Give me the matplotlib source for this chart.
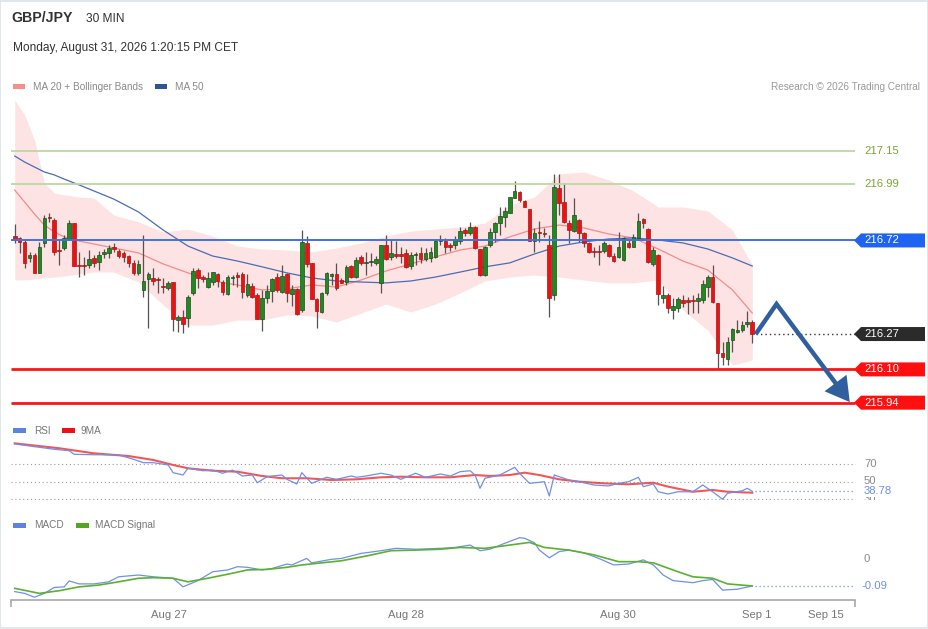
import matplotlib
matplotlib.use('Agg')
import matplotlib.pyplot as plt
from matplotlib.patches import Rectangle, Polygon, FancyArrowPatch

plt.rcParams['font.family'] = ['Liberation Sans', 'DejaVu Sans']

# ---------------- data ----------------
open_ = [216.741, 216.732, 216.713, 216.636, 216.650, 216.564, 216.708, 216.833, 216.818, 216.674,
         216.684, 216.727, 216.804, 216.602, 216.602, 216.602, 216.636, 216.617, 216.655, 216.660,
         216.689, 216.669, 216.660, 216.645, 216.612, 216.564, 216.482, 216.535, 216.540, 216.535,
         216.501, 216.492, 216.520, 216.337, 216.352, 216.347, 216.468, 216.578, 216.544, 216.496,
         216.520, 216.559, 216.520, 216.463, 216.540, 216.554, 216.559, 216.458, 216.501, 216.458,
         216.342, 216.444, 216.477, 216.544, 216.472, 216.559, 216.463, 216.487, 216.386, 216.708,
         216.612, 216.439, 216.376, 216.468, 216.549, 216.559, 216.530, 216.520, 216.597, 216.544,
         216.641, 216.612, 216.617, 216.612, 216.516, 216.698, 216.641, 216.655, 216.655, 216.660,
         216.597, 216.650, 216.660, 216.631, 216.636, 216.641, 216.717, 216.717, 216.698, 216.698,
         216.717, 216.770, 216.756, 216.785, 216.679, 216.554, 216.698, 216.761, 216.804, 216.833,
         216.852, 216.924, 216.953, 216.910, 216.871, 216.717, 216.761, 216.756, 216.698, 216.458,
         216.972, 216.905, 216.804, 216.765, 216.818, 216.756, 216.708, 216.669, 216.669, 216.669,
         216.698, 216.645, 216.641, 216.626, 216.708, 216.689, 216.732, 216.823, 216.775, 216.607,
         216.650, 216.444, 216.458, 216.386, 216.395, 216.434, 216.434, 216.434, 216.429, 216.434,
         216.496, 216.544, 216.419, 216.179, 216.150, 216.241, 216.280, 216.289, 216.318, 216.328]
high = [216.799, 216.737, 216.722, 216.665, 216.660, 216.713, 216.842, 216.852, 216.828, 216.722,
        216.746, 216.818, 216.804, 216.665, 216.641, 216.674, 216.650, 216.669, 216.679, 216.698,
        216.708, 216.679, 216.669, 216.650, 216.626, 216.626, 216.746, 216.568, 216.588, 216.544,
        216.540, 216.525, 216.520, 216.362, 216.386, 216.458, 216.588, 216.588, 216.554, 216.568,
        216.568, 216.564, 216.530, 216.554, 216.554, 216.568, 216.568, 216.559, 216.516, 216.468,
        216.482, 216.506, 216.540, 216.564, 216.602, 216.564, 216.506, 216.492, 216.770, 216.741,
        216.612, 216.444, 216.472, 216.568, 216.564, 216.612, 216.540, 216.602, 216.602, 216.641,
        216.650, 216.665, 216.660, 216.645, 216.698, 216.746, 216.722, 216.717, 216.689, 216.679,
        216.665, 216.665, 216.689, 216.684, 216.689, 216.722, 216.746, 216.732, 216.708, 216.741,
        216.785, 216.780, 216.809, 216.789, 216.679, 216.693, 216.780, 216.809, 216.881, 216.881,
        216.929, 217.006, 216.958, 216.914, 216.871, 216.780, 216.813, 216.780, 216.746, 217.040,
        217.040, 216.996, 216.818, 216.924, 216.823, 216.761, 216.713, 216.689, 216.698, 216.717,
        216.703, 216.660, 216.761, 216.737, 216.722, 216.751, 216.852, 216.828, 216.780, 216.689,
        216.655, 216.501, 216.468, 216.444, 216.448, 216.458, 216.448, 216.458, 216.468, 216.530,
        216.554, 216.602, 216.419, 216.232, 216.256, 216.299, 216.337, 216.333, 216.381, 216.337]
low = [216.708, 216.660, 216.588, 216.617, 216.564, 216.564, 216.689, 216.809, 216.650, 216.602,
       216.674, 216.722, 216.597, 216.544, 216.554, 216.588, 216.593, 216.578, 216.636, 216.636,
       216.665, 216.636, 216.617, 216.593, 216.554, 216.554, 216.448, 216.299, 216.506, 216.468,
       216.468, 216.482, 216.285, 216.280, 216.275, 216.304, 216.458, 216.492, 216.520, 216.492,
       216.506, 216.496, 216.458, 216.458, 216.506, 216.496, 216.444, 216.448, 216.444, 216.342,
       216.285, 216.419, 216.424, 216.472, 216.468, 216.424, 216.405, 216.362, 216.376, 216.593,
       216.439, 216.299, 216.371, 216.458, 216.506, 216.482, 216.516, 216.506, 216.540, 216.540,
       216.602, 216.554, 216.597, 216.602, 216.468, 216.626, 216.626, 216.636, 216.612, 216.588,
       216.583, 216.602, 216.612, 216.621, 216.617, 216.636, 216.698, 216.660, 216.669, 216.679,
       216.703, 216.741, 216.746, 216.679, 216.549, 216.549, 216.689, 216.713, 216.746, 216.785,
       216.852, 216.924, 216.905, 216.881, 216.717, 216.665, 216.713, 216.737, 216.352, 216.434,
       216.842, 216.804, 216.708, 216.761, 216.713, 216.689, 216.660, 216.641, 216.602, 216.660,
       216.641, 216.617, 216.636, 216.621, 216.684, 216.689, 216.727, 216.780, 216.612, 216.597,
       216.410, 216.419, 216.371, 216.342, 216.376, 216.400, 216.366, 216.371, 216.371, 216.419,
       216.448, 216.419, 216.100, 216.121, 216.121, 216.184, 216.275, 216.280, 216.304, 216.227]
close = [216.722, 216.713, 216.612, 216.650, 216.564, 216.689, 216.828, 216.828, 216.665, 216.669,
         216.732, 216.804, 216.597, 216.597, 216.597, 216.631, 216.612, 216.650, 216.665, 216.684,
         216.679, 216.645, 216.641, 216.612, 216.564, 216.607, 216.525, 216.559, 216.525, 216.530,
         216.497, 216.516, 216.342, 216.352, 216.318, 216.448, 216.573, 216.540, 216.535, 216.540,
         216.568, 216.525, 216.472, 216.544, 216.544, 216.544, 216.472, 216.511, 216.448, 216.342,
         216.444, 216.477, 216.535, 216.482, 216.549, 216.468, 216.487, 216.366, 216.713, 216.607,
         216.439, 216.381, 216.468, 216.564, 216.559, 216.492, 216.516, 216.593, 216.544, 216.626,
         216.612, 216.617, 216.621, 216.631, 216.698, 216.631, 216.660, 216.645, 216.645, 216.593,
         216.650, 216.655, 216.631, 216.660, 216.665, 216.717, 216.727, 216.689, 216.689, 216.727,
         216.765, 216.756, 216.785, 216.684, 216.554, 216.689, 216.761, 216.804, 216.837, 216.862,
         216.929, 216.958, 216.914, 216.881, 216.717, 216.756, 216.756, 216.751, 216.444, 216.977,
         216.900, 216.809, 216.770, 216.842, 216.756, 216.708, 216.665, 216.665, 216.665, 216.708,
         216.645, 216.621, 216.689, 216.732, 216.689, 216.737, 216.813, 216.804, 216.617, 216.674,
         216.463, 216.458, 216.395, 216.405, 216.439, 216.419, 216.424, 216.429, 216.444, 216.511,
         216.544, 216.424, 216.179, 216.160, 216.232, 216.294, 216.289, 216.313, 216.328, 216.270]

# moving averages / bands, sampled at candle indices
band_idx = [0, 2, 4, 6, 8, 10, 13, 16, 20, 25, 30, 35, 40, 45, 50, 55, 60, 65, 70, 75, 80, 85,
            90, 95, 100, 105, 110, 115, 120, 125, 130, 135, 140, 145, 149]
bb_upper = [217.395, 217.323, 217.203, 216.996, 216.948, 216.939, 216.929, 216.924, 216.842, 216.809,
            216.761, 216.775, 216.741, 216.693, 216.679, 216.674, 216.665, 216.684, 216.708, 216.741,
            216.765, 216.775, 216.785, 216.804, 216.890, 216.929, 217.040, 217.049, 217.011, 216.958,
            216.881, 216.881, 216.862, 216.770, 216.602]
bb_lower = [216.530, 216.530, 216.535, 216.540, 216.544, 216.549, 216.559, 216.568, 216.568, 216.520,
            216.410, 216.313, 216.313, 216.337, 216.337, 216.362, 216.357, 216.328, 216.371, 216.414,
            216.376, 216.414, 216.468, 216.525, 216.544, 216.554, 216.544, 216.530, 216.516, 216.516,
            216.530, 216.386, 216.289, 216.121, 216.145]
ma20 = [216.962, 216.905, 216.847, 216.794, 216.761, 216.737, 216.717, 216.703, 216.684, 216.660,
        216.607, 216.564, 216.525, 216.506, 216.482, 216.487, 216.506, 216.496, 216.530, 216.573,
        216.607, 216.641, 216.674, 216.693, 216.737, 216.775, 216.794, 216.780, 216.751, 216.732,
        216.679, 216.621, 216.578, 216.482, 216.371]
ma50 = [217.126, 217.097, 217.073, 217.049, 217.035, 217.015, 216.987, 216.958, 216.919, 216.857,
        216.770, 216.693, 216.645, 216.621, 216.593, 216.564, 216.540, 216.525, 216.520, 216.516,
        216.525, 216.544, 216.568, 216.593, 216.612, 216.655, 216.693, 216.713, 216.727, 216.732,
        216.722, 216.708, 216.679, 216.636, 216.597]

# key levels
resist_levels = [217.15, 216.99]
pivot_level = 216.72
last_price = 216.27
support_levels = [216.10, 215.94]

# projected path (candle offsets after last candle, price)
proj_offsets = [0.7, 4.9, 19.7]
proj_prices = [216.27, 216.414, 215.943]

# RSI and its 9-period MA
rsi_idx = [0, 4, 8, 11, 12, 16, 21, 24, 26, 28, 31, 32, 34, 35, 38, 40, 42, 44, 46, 48, 49, 51, 52, 54,
           55, 57, 58, 60, 63, 65, 68, 69, 71, 74, 76, 78, 81, 83, 86, 88, 90, 92, 93, 94, 95, 98, 101,
           102, 104, 107, 108, 109, 112, 114, 117, 120, 122, 124, 126, 127, 129, 130, 132, 134, 137,
           139, 141, 143, 144, 147, 148, 149]
rsi_val = [92.9, 89.8, 86.8, 85.2, 81.1, 80.6, 80.3, 75.4, 71.5, 71.5, 68.9, 60.1, 57.4, 65.1, 62.3,
           63.1, 59.4, 63.1, 56.3, 57.4, 48.6, 55.5, 56.3, 57.4, 52.5, 47.1, 60.1, 47.9, 54.8, 52.5,
           56.3, 54.8, 56.3, 59.4, 57.4, 52.5, 59.4, 54.8, 58.6, 56.3, 61.2, 62.3, 57.4, 42.2, 53.7,
           57.4, 66.2, 59.4, 47.9, 49.8, 33.4, 57.4, 51.7, 49.8, 46.0, 44.9, 47.9, 49.8, 54.8, 44.1,
           47.1, 38.3, 35.7, 38.3, 38.3, 46.0, 38.3, 29.7, 36.5, 39.5, 42.2, 38.78]
ma9_idx = [0, 9, 16, 23, 28, 32, 35, 40, 45, 50, 54, 59, 64, 69, 74, 78, 83, 88, 93, 96, 100, 103,
           106, 110, 114, 119, 124, 129, 132, 137, 141, 144, 149]
ma9_val = [93.6, 88.0, 82.2, 79.1, 74.6, 68.9, 65.1, 62.3, 61.2, 56.3, 53.7, 53.7, 51.7, 52.5, 54.8,
           55.5, 54.8, 54.8, 57.4, 56.3, 57.4, 60.1, 57.4, 52.5, 49.8, 47.9, 46.8, 48.6, 44.1, 38.3,
           40.3, 38.3, 37.2]
rsi_levels = [70, 50, 30]

# MACD
macd_idx = [0, 2, 4, 6, 8, 10, 11, 13, 16, 19, 21, 25, 28, 32, 34, 37, 40, 43, 45, 47, 50, 52, 55, 56,
            59, 60, 64, 66, 70, 74, 77, 81, 86, 89, 92, 94, 96, 99, 102, 103, 105, 106, 108, 110, 112,
            115, 118, 121, 124, 127, 129, 131, 133, 137, 139, 141, 143, 146, 149]
macd_val = [-0.109, -0.115, -0.128, -0.115, -0.095, -0.093, -0.073, -0.083, -0.083, -0.076, -0.059,
            -0.053, -0.059, -0.064, -0.093, -0.072, -0.042, -0.036, -0.025, -0.027, -0.036, -0.031,
            -0.016, -0.019, 0.003, -0.012, 0.0, 0.003, 0.020, 0.029, 0.037, 0.034, 0.037, 0.040, 0.048,
            0.029, 0.034, 0.054, 0.073, 0.071, 0.056, 0.031, 0.005, 0.026, 0.031, 0.022, 0.003, -0.019,
            -0.016, -0.002, -0.019, -0.053, -0.072, -0.079, -0.072, -0.068, -0.104, -0.101, -0.090]
sig_idx = [0, 5, 9, 13, 17, 21, 25, 28, 32, 35, 39, 44, 47, 51, 55, 58, 62, 66, 71, 76, 81, 86, 90,
           95, 100, 104, 107, 112, 117, 122, 126, 129, 134, 137, 141, 144, 149]
sig_val = [-0.098, -0.115, -0.106, -0.093, -0.087, -0.076, -0.064, -0.062, -0.064, -0.076, -0.064,
           -0.047, -0.036, -0.034, -0.027, -0.019, -0.012, -0.005, 0.011, 0.029, 0.031, 0.034, 0.040,
           0.037, 0.048, 0.057, 0.040, 0.031, 0.015, -0.008, -0.008, -0.012, -0.042, -0.059, -0.064,
           -0.083, -0.090]

tick_pos = [31.1, 79.0, 121.9, 150.0, 163.9]
tick_labels = ['Aug 27', 'Aug 28', 'Aug 30', 'Sep 1', 'Sep 15']

# ---------------- layout helpers ----------------
W, H = 929, 629
fig = plt.figure(figsize=(W / 100, H / 100), dpi=100)
fig.patch.set_facecolor('white')

X0, DX = 14.7, 4.95          # pixel x of first candle, candle spacing (px)


def ix(px):
    return (px - X0) / DX


def rect(x0, y0, x1, y1):
    return [x0 / W, 1 - y1 / H, (x1 - x0) / W, (y1 - y0) / H]


def ftext(px, py, s, **kw):
    fig.text(px / W, 1 - py / H, s, va='center', **kw)


def fswatch(px0, py0, px1, py1, color):
    fig.patches.append(Rectangle((px0 / W, 1 - py1 / H), (px1 - px0) / W, (py1 - py0) / H,
                                 transform=fig.transFigure, color=color, lw=0))


XL = (ix(11), ix(929))
XSTART, XEND = ix(11), ix(855)
LBL_X = ix(864)

# border
fig.patches.append(Rectangle((0.0005, 0.0008), 0.998, 0.998, transform=fig.transFigure,
                             fill=False, ec='#dde3e8', lw=1.2))

# ---------------- header ----------------
ftext(11, 18.5, 'GBP/JPY', fontsize=10.2, fontweight='bold', color='#333333')
ftext(86, 18.5, '30 MIN', fontsize=8.6, color='#333333')
ftext(13, 48, 'Monday, August 31, 2026 1:20:15 PM CET', fontsize=8.6, color='#333333')
fswatch(13, 84, 25, 89, '#ff8c8c')
ftext(33, 86.5, 'MA 20 + Bollinger Bands', fontsize=7.2, color='#8a8a8a')
fswatch(155, 84, 167, 89, '#2e5597')
ftext(175, 86.5, 'MA 50', fontsize=7.2, color='#8a8a8a')
ftext(920, 86.5, 'Research \u00a9 2026 Trading Central', fontsize=7.2, color='#9a9a9a', ha='right')

# ---------------- price panel ----------------
PPX = 1 / 208.0  # price per pixel
ax = fig.add_axes(rect(11, 95, 929, 415))
ax.set_xlim(*XL)
ax.set_ylim(217.15 - (415 - 151) * PPX, 217.15 + (151 - 95) * PPX)
ax.axis('off')

ax.fill_between(band_idx, bb_lower, bb_upper, color='#fde3e3', lw=0, zorder=1)
ax.plot(band_idx, ma20, color='#f28c8c', lw=0.9, zorder=2)
ax.plot(band_idx, ma50, color='#4a6db3', lw=0.9, zorder=2)

n = len(close)
idx = list(range(n))
ax.vlines(idx, low, high, color='#5a5050', lw=0.9, zorder=3)
for i in idx:
    up = close[i] >= open_[i]
    bot = min(open_[i], close[i])
    hgt = max(abs(close[i] - open_[i]), PPX)
    ax.bar(i, hgt, bottom=bot, width=0.74,
           color='#1f8a1f' if up else '#ee1111',
           edgecolor='#1d4a1d' if up else '#a31515', lw=0.5, zorder=4)


def tag(axis, y, text, fc, yppx, tc='white'):
    tip, bl, r = ix(854), ix(861), ix(925)
    hh = 7 * yppx
    axis.add_patch(Polygon([(tip, y), (bl, y + hh), (r, y + hh), (r, y - hh), (bl, y - hh)],
                           closed=True, fc=fc, ec='none', zorder=8, clip_on=False))
    axis.text(LBL_X, y, text, color=tc, fontsize=8.1, va='center', ha='left', zorder=9)


for lv in resist_levels:
    ax.hlines(lv, XSTART, XEND, color='#bcd9a0', lw=1.3, zorder=5)
    ax.text(LBL_X, lv, f'{lv:.2f}', color='#78a832', fontsize=8.1, va='center', ha='left')

ax.hlines(pivot_level, XSTART, XEND, color='#3f72e0', lw=1.4, zorder=5)
tag(ax, pivot_level, f'{pivot_level:.2f}', '#1f63f2', PPX)

for lv in support_levels:
    ax.hlines(lv, XSTART, XEND, color='#ff1414', lw=2.0, zorder=5)
    tag(ax, lv, f'{lv:.2f}', '#ff0f0f', PPX)

last_i = n - 1
ax.hlines(last_price, last_i + 0.7, XEND, color='#333333', lw=1.0, linestyles=(0, (1, 2.2)), zorder=5)
tag(ax, last_price, f'{last_price:.2f}', '#2b2b2b', PPX)

# projection arrow
px_ = [last_i + o for o in proj_offsets]
py_ = proj_prices
frac = 0.82
mx = px_[1] + (px_[2] - px_[1]) * frac
my = py_[1] + (py_[2] - py_[1]) * frac
ax.plot([px_[0], px_[1], mx], [py_[0], py_[1], my], color='#2f5f9f', lw=3.2,
        solid_joinstyle='miter', solid_capstyle='butt', zorder=7)
ax.add_patch(FancyArrowPatch((px_[1] + (px_[2] - px_[1]) * 0.7, py_[1] + (py_[2] - py_[1]) * 0.7),
                             (px_[2], py_[2]), arrowstyle='-|>,head_length=0.95,head_width=0.55',
                             mutation_scale=18, color='#2f5f9f', lw=0, shrinkA=0, shrinkB=0,
                             zorder=7, clip_on=False))

# ---------------- RSI panel ----------------
RPX = 0.875  # px per RSI unit
rax = fig.add_axes(rect(11, 436, 929, 500))
rax.set_xlim(*XL)
rax.set_ylim(50 - (500 - 481.5) / RPX, 50 + (481.5 - 436) / RPX)
rax.axis('off')
fswatch(13, 428, 26, 433, '#5b83e4')
ftext(34, 430.5, 'RSI', fontsize=7.2, color='#777777')
fswatch(62, 428, 75, 433, '#ee1111')
ftext(81, 430.5, '9MA', fontsize=7.2, color='#777777')
for lv in rsi_levels:
    rax.hlines(lv, XSTART, XEND, color='#9a9a9a', lw=0.8, linestyles=(0, (1, 2.5)))
    rax.text(LBL_X, lv, f'{lv}', color='#8a8a8a', fontsize=8.1, va='center', ha='left', clip_on=True)
rax.plot(ma9_idx, ma9_val, color='#f03a3a', lw=1.5, alpha=0.85)
rax.plot(rsi_idx, rsi_val, color='#6f8fec', lw=0.9)
rax.hlines(rsi_val[-1], rsi_idx[-1] + 0.5, XEND, color='#6f8fec', lw=0.9, linestyles=(0, (1, 2.2)))
rax.text(LBL_X, rsi_val[-1], f'{rsi_val[-1]:.2f}', color='#6f8fec', fontsize=8.1, va='center',
         ha='left', bbox=dict(fc='white', ec='none', pad=0.6))

# ---------------- MACD panel ----------------
MPX = 296.3  # px per MACD unit
max_ = fig.add_axes(rect(11, 533, 929, 600))
max_.set_xlim(*XL)
max_.set_ylim((559.3 - 600) / MPX, (559.3 - 533) / MPX)
for s in ['top', 'right', 'left']:
    max_.spines[s].set_visible(False)
max_.spines['bottom'].set_bounds(XSTART, XEND)
max_.spines['bottom'].set_color('#a8a8a8')
max_.spines['bottom'].set_linewidth(1.2)
max_.set_yticks([])
max_.set_xticks(tick_pos)
max_.set_xticklabels(tick_labels)
max_.tick_params(axis='x', which='major', length=0, pad=7, labelsize=8.1, labelcolor='#777777')
max_.set_xticks([XSTART, XEND], minor=True)
max_.tick_params(axis='x', which='minor', length=5, width=1.2, color='#a8a8a8')
max_.patch.set_alpha(0)

fswatch(13, 523, 26, 528, '#5b83e4')
ftext(34, 525.5, 'MACD', fontsize=7.2, color='#777777')
fswatch(76, 523, 89, 528, '#4fa81f')
ftext(95, 525.5, 'MACD Signal', fontsize=7.2, color='#777777')

max_.plot(macd_idx, macd_val, color='#6f8fec', lw=0.9)
max_.plot(sig_idx, sig_val, color='#5cb030', lw=1.2)
max_.text(LBL_X, 0, '0', color='#8a8a8a', fontsize=8.1, va='center', ha='left')
max_.hlines(macd_val[-1], macd_idx[-1] + 0.5, XEND, color='#6f8fec', lw=0.9, linestyles=(0, (1, 2.2)))
max_.text(ix(862), macd_val[-1], f'{macd_val[-1]:.2f}', color='#6f8fec', fontsize=8.1, va='center',
          ha='left')

fig.savefig('out.png', dpi=100, facecolor='white')
